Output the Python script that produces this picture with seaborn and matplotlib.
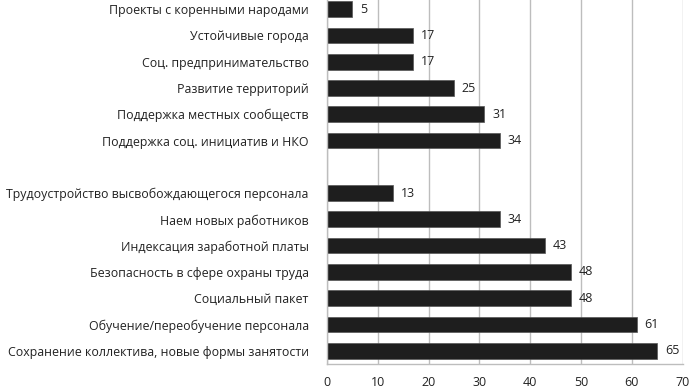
import numpy as np
import pandas as pd
import seaborn as sns
import matplotlib.pyplot as plt

# categories top to bottom, a blank slot separates the two groups
labels = [
    "Проекты с коренными народами",
    "Устойчивые города",
    "Соц. предпринимательство",
    "Развитие территорий",
    "Поддержка местных сообществ",
    "Поддержка соц. инициатив и НКО",
    " ",
    "Трудоустройство высвобождающегося персонала",
    "Наем новых работников",
    "Индексация заработной платы",
    "Безопасность в сфере охраны труда",
    "Социальный пакет",
    "Обучение/переобучение персонала",
    "Сохранение коллектива, новые формы занятости",
]
values = [5, 17, 17, 25, 31, 34, np.nan, 13, 34, 43, 48, 48, 61, 65]
x_ticks = [0, 10, 20, 30, 40, 50, 60, 70]

df = pd.DataFrame({"label": labels, "value": values})

sns.set_style("white")
plt.rcParams["font.family"] = ["Open Sans", "DejaVu Sans"]

fig = plt.figure(figsize=(6.91, 3.92), dpi=100)
ax = fig.add_axes([0.473, 0.072, 0.515, 0.938])

sns.barplot(data=df, x="value", y="label", order=labels, color="#1e1e1e",
            saturation=1, width=0.6, edgecolor="#555555", linewidth=0.5, ax=ax)

for i, v in enumerate(values):
    if not np.isnan(v):
        ax.text(v + 1.5, i, f"{v:g}", va="center", ha="left", fontsize=9, color="#222222")

ax.set_xlim(0, 70)
ax.set_ylim(13.5, -0.5)
ax.set_xticks(x_ticks)
ax.xaxis.grid(True, color="#bdbdbd", linewidth=1)
ax.set_axisbelow(True)
ax.set_xlabel("")
ax.set_ylabel("")
ax.tick_params(axis="x", length=0, pad=9, labelsize=9, colors="#222222")
ax.tick_params(axis="y", length=0, pad=13, labelsize=8.9, colors="#222222")

for s in ["top", "right"]:
    ax.spines[s].set_visible(False)
for s in ["left", "bottom"]:
    ax.spines[s].set_color("#bdbdbd")
    ax.spines[s].set_linewidth(1)

fig.savefig("out.png", dpi=100)
